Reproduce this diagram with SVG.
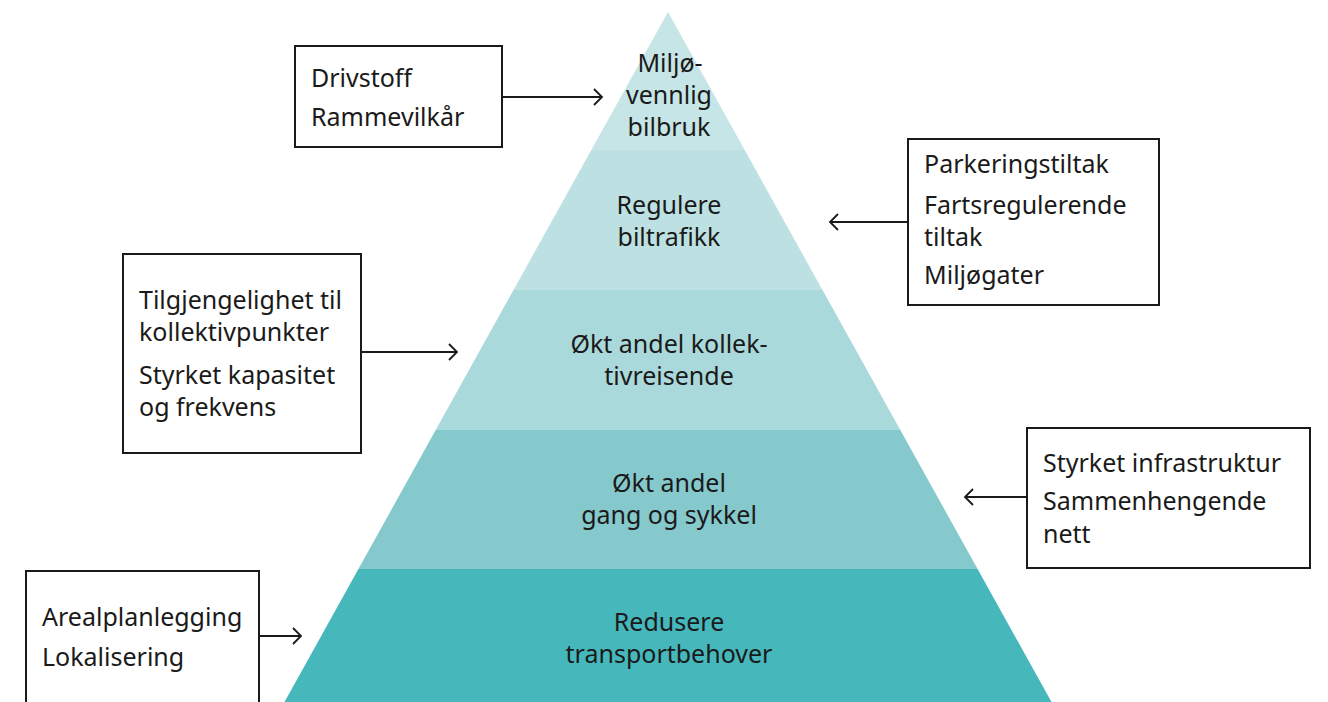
<svg xmlns="http://www.w3.org/2000/svg" width="1328" height="702" viewBox="0 0 1328 702">
<style>
.t{font-family:"Noto Sans","Liberation Sans",sans-serif;font-size:25px;fill:#1a1a1a}
.c{text-anchor:middle}
.box{fill:#fff;stroke:#1a1a1a;stroke-width:2}
.con{stroke:#1a1a1a;stroke-width:1.8;fill:none;marker-end:url(#ah)}
</style>
<defs>
<marker id="ah" markerUnits="userSpaceOnUse" markerWidth="14" markerHeight="20" refX="10" refY="10" orient="auto">
<path d="M2,2 L10,10 L2,18" fill="none" stroke="#1a1a1a" stroke-width="1.8"/>
</marker>
</defs>
<rect width="1328" height="702" fill="#fff"/>
<g id="level1">
<polygon points="668,12 744.7,150 591.3,150" fill="#c6e5e6"/>
<text class="t c" x="670" y="72">Miljø-</text>
<text class="t c" x="669" y="104">vennlig</text>
<text class="t c" x="669" y="136">bilbruk</text>
</g>
<g id="level2">
<polygon points="591.3,150 744.7,150 822.5,290 513.5,290" fill="#bde1e2"/>
<text class="t c" x="669" y="214">Regulere</text>
<text class="t c" x="669" y="246">biltrafikk</text>
</g>
<g id="level3">
<polygon points="513.5,290 822.5,290 900.3,430 435.7,430" fill="#aad9db"/>
<text class="t c" x="669" y="353">Økt andel kollek-</text>
<text class="t c" x="669" y="385">tivreisende</text>
</g>
<g id="level4">
<polygon points="435.7,430 900.3,430 977.6,569 358.4,569" fill="#86c9cc"/>
<text class="t c" x="669" y="492">Økt andel</text>
<text class="t c" x="669" y="524">gang og sykkel</text>
</g>
<g id="level5">
<polygon points="358.4,569 977.6,569 1051.5,702 284.5,702" fill="#46b8bc"/>
<text class="t c" x="669" y="631">Redusere</text>
<text class="t c" x="669" y="663">transportbehover</text>
</g>
<g id="box-drivstoff">
<rect class="box" x="295" y="46" width="207" height="101"/>
<text class="t" x="311" y="87">Drivstoff</text>
<text class="t" x="311" y="126">Rammevilkår</text>
</g>
<g id="box-parkering">
<rect class="box" x="908" y="139" width="251" height="166"/>
<text class="t" x="924" y="173">Parkeringstiltak</text>
<text class="t" x="924" y="214">Fartsregulerende</text>
<text class="t" x="924" y="246">tiltak</text>
<text class="t" x="924" y="284">Miljøgater</text>
</g>
<g id="box-kollektiv">
<rect class="box" x="123" y="254" width="238" height="199"/>
<text class="t" x="139" y="309">Tilgjengelighet til</text>
<text class="t" x="139" y="341">kollektivpunkter</text>
<text class="t" x="139" y="384">Styrket kapasitet</text>
<text class="t" x="139" y="416">og frekvens</text>
</g>
<g id="box-infrastruktur">
<rect class="box" x="1027" y="428" width="283" height="140"/>
<text class="t" x="1043" y="472">Styrket infrastruktur</text>
<text class="t" x="1043" y="510">Sammenhengende</text>
<text class="t" x="1043" y="543">nett</text>
</g>
<g id="box-areal">
<rect class="box" x="26" y="571" width="233" height="140"/>
<text class="t" x="42" y="626">Arealplanlegging</text>
<text class="t" x="42" y="666">Lokalisering</text>
</g>
<g id="connectors">
<line class="con" x1="502" y1="97" x2="602" y2="97"/>
<line class="con" x1="908" y1="222" x2="830" y2="222"/>
<line class="con" x1="361" y1="352" x2="457" y2="352"/>
<line class="con" x1="1027" y1="497" x2="965" y2="497"/>
<line class="con" x1="259" y1="636" x2="301" y2="636"/>
</g>
</svg>
